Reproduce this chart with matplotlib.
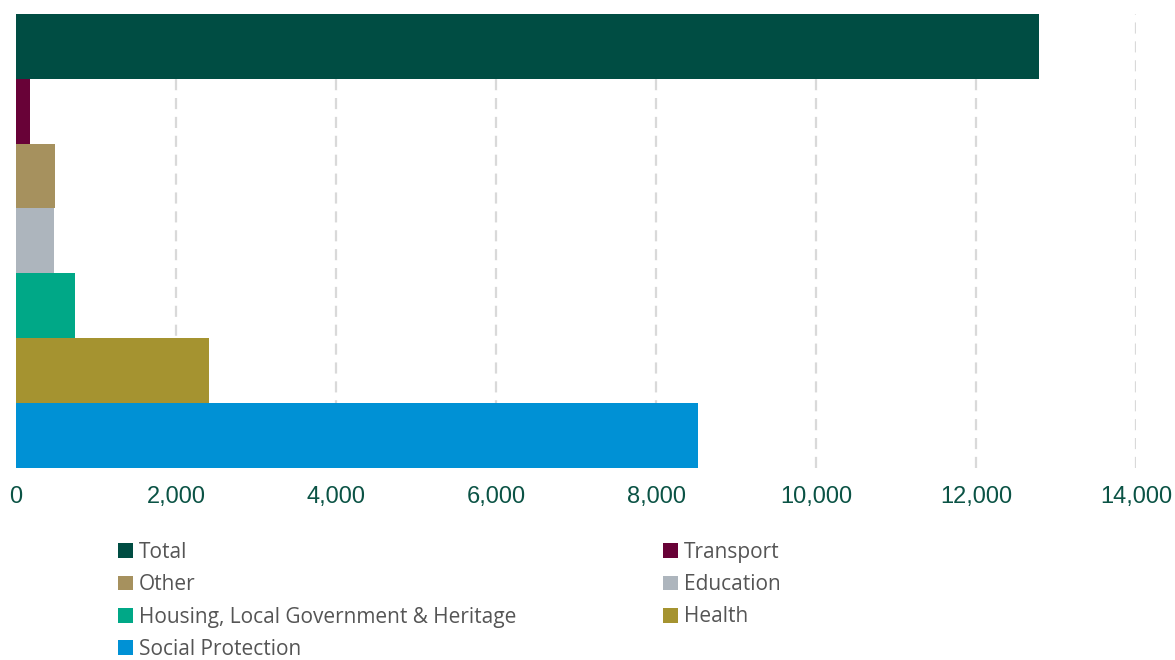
import matplotlib.pyplot as plt
from matplotlib.patches import Patch
from matplotlib.ticker import FuncFormatter

# series, top to bottom
series = ['Total', 'Transport', 'Other', 'Education',
          'Housing, Local Government & Heritage', 'Health', 'Social Protection']
values = [12790, 175, 490, 475, 735, 2410, 8520]
colors = ['#004d43', '#680237', '#a6915e', '#adb5bd', '#00a887', '#a59330', '#0091d5']

fig = plt.figure(figsize=(11.75, 6.6), dpi=100)
ax = fig.add_axes([16 / 1175, 192.3 / 660, 1120 / 1175, 453.7 / 660])

n = len(series)
for i, (name, val, col) in enumerate(zip(series, values, colors)):
    ax.barh(n - 1 - i, val, height=1.0, color=col, zorder=3, label=name)

ax.set_xlim(0, 14000)
ax.set_ylim(-0.5, n - 0.5)
ax.set_xticks(range(0, 14001, 2000))
ax.xaxis.set_major_formatter(FuncFormatter(lambda v, p: '{:,.0f}'.format(v)))
ax.set_yticks([])
ax.grid(axis='x', color='#d9d9d9', linestyle=(0, (5, 3.5)), linewidth=1.6, zorder=0)
for s in ax.spines.values():
    s.set_visible(False)
ax.tick_params(axis='x', length=0, pad=13, labelsize=17, labelcolor='#0b5345')
for t in ax.get_xticklabels():
    t.set_fontfamily('Liberation Sans')

handles = {name: Patch(facecolor=col) for name, col in zip(series, colors)}
left_col = ['Total', 'Other', 'Housing, Local Government & Heritage', 'Social Protection']
right_col = ['Transport', 'Education', 'Health']

lkw = dict(frameon=False, handlelength=0.72, handleheight=0.72, handletextpad=0.3,
           labelspacing=0.54, labelcolor='#555555', borderpad=0, borderaxespad=0,
           prop={'family': 'Open Sans', 'size': 15}, loc='upper left')
leg1 = fig.legend([handles[s] for s in left_col], left_col,
                  bbox_to_anchor=(118 / 1175, 1 - 542 / 660), **lkw)
leg2 = fig.legend([handles[s] for s in right_col], right_col,
                  bbox_to_anchor=(663 / 1175, 1 - 542 / 660), **lkw)

fig.savefig('out.png', dpi=100)
